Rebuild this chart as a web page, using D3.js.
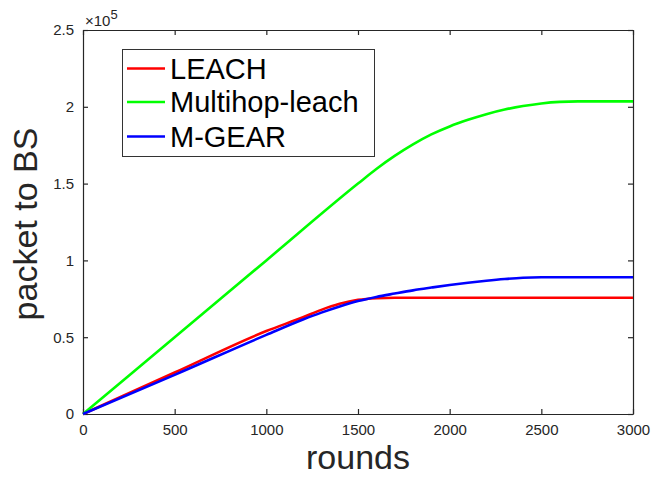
<!DOCTYPE html>
<html><head><meta charset="utf-8">
<script src="https://cdn.jsdelivr.net/npm/d3@7"></script>
<style>body{margin:0;background:#fff}svg{display:block}text{font-family:"Liberation Sans",Arial,sans-serif}</style>
</head><body>
<script>
// data (y values in units of 1e5)
const seriesNames = ["LEACH", "Multihop-leach", "M-GEAR"];
const seriesColors = ["#ff0000", "#00ff00", "#0000ff"];
const leachRounds = [0, 500, 1000, 1200, 1300, 1400, 1500, 1600, 1700, 3000];
const leachValues = [0, 0.27, 0.54, 0.63, 0.678, 0.717, 0.743, 0.754, 0.757, 0.757];
const multihopRounds = [0, 500, 1000, 1500, 1600, 1700, 1800, 1900, 2000, 2100, 2200, 2300, 2400, 2500, 2600, 2700, 3000];
const multihopValues = [0, 0.5, 1.0, 1.5, 1.595, 1.68, 1.755, 1.82, 1.872, 1.915, 1.952, 1.982, 2.005, 2.022, 2.032, 2.035, 2.035];
const mgearRounds = [0, 500, 1000, 1200, 1300, 1400, 1500, 1600, 1700, 1800, 1900, 2000, 2100, 2200, 2300, 2400, 2500, 3000];
const mgearValues = [0, 0.255, 0.515, 0.615, 0.66, 0.70, 0.735, 0.762, 0.784, 0.805, 0.823, 0.84, 0.855, 0.868, 0.879, 0.887, 0.89, 0.89];
const xTicks = [0, 500, 1000, 1500, 2000, 2500, 3000];
const yTicks = [0, 0.5, 1, 1.5, 2, 2.5];
const yTickLabels = ["0", "0.5", "1", "1.5", "2", "2.5"];

const W = 666, H = 477;
const m = {l: 83, r: 33, t: 30, b: 63};
const svg = d3.select("body").append("svg").attr("width", W).attr("height", H);
const x = d3.scaleLinear().domain([0, 3000]).range([m.l, W - m.r]);
const y = d3.scaleLinear().domain([0, 2.5]).range([H - m.b, m.t]);
const axisColor = "#262626";

// axes (ticks inside)
const gx = svg.append("g").attr("transform", `translate(0,${H - m.b})`)
  .call(d3.axisBottom(x).tickValues(xTicks).tickSizeInner(-5).tickSizeOuter(0).tickPadding(10).tickFormat(d3.format("d")));
const gxt = svg.append("g").attr("transform", `translate(0,${m.t})`)
  .call(d3.axisTop(x).tickValues(xTicks).tickSizeInner(-5).tickSizeOuter(0).tickFormat(""));
const gy = svg.append("g").attr("transform", `translate(${m.l},0)`)
  .call(d3.axisLeft(y).tickValues(yTicks).tickSizeInner(-5).tickSizeOuter(0).tickPadding(9).tickFormat((d, i) => yTickLabels[i]));
const gyr = svg.append("g").attr("transform", `translate(${W - m.r},0)`)
  .call(d3.axisRight(y).tickValues(yTicks).tickSizeInner(-5).tickSizeOuter(0).tickFormat(""));
[gx, gxt, gy, gyr].forEach(g => {
  g.selectAll("path,line").attr("stroke", axisColor).attr("stroke-width", 1.2);
  g.selectAll("text").attr("fill", axisColor).style("font-size", "15px").style("font-family", "'Liberation Sans',Arial,sans-serif");
});

// exponent label
const ex = svg.append("text").attr("x", 85).attr("y", 26).attr("fill", axisColor).style("font-size", "15px");
ex.append("tspan").text("×10");
ex.append("tspan").attr("dy", -7).style("font-size", "13px").text("5");

// lines
const line = d3.line().x(d => x(d[0])).y(d => y(d[1])).curve(d3.curveMonotoneX);
const data = [
  d3.zip(leachRounds, leachValues),
  d3.zip(multihopRounds, multihopValues),
  d3.zip(mgearRounds, mgearValues)
];
data.forEach((d, i) => {
  svg.append("path").datum(d).attr("d", line).attr("fill", "none")
    .attr("stroke", seriesColors[i]).attr("stroke-width", 2.6).attr("stroke-linejoin", "round");
});

// axis titles
svg.append("text").attr("x", x(1500)).attr("y", 469).attr("text-anchor", "middle")
  .attr("fill", axisColor).style("font-size", "34px").text("rounds");
svg.append("text").attr("transform", `translate(37,${(m.t + H - m.b) / 2 + 2}) rotate(-90)`).attr("text-anchor", "middle")
  .attr("fill", axisColor).style("font-size", "34px").text("packet to BS");

// legend
const lg = svg.append("g");
lg.append("rect").attr("x", 122.5).attr("y", 49.5).attr("width", 252).attr("height", 107)
  .attr("fill", "#fff").attr("stroke", "#333").attr("stroke-width", 1);
const rowY = [68.5, 102, 136.5];
seriesNames.forEach((n, i) => {
  lg.append("line").attr("x1", 127).attr("x2", 165).attr("y1", rowY[i]).attr("y2", rowY[i])
    .attr("stroke", seriesColors[i]).attr("stroke-width", 2.6);
  lg.append("text").attr("x", 170).attr("y", rowY[i] + 10).attr("fill", "#000")
    .style("font-size", "29px").text(n);
});
</script>
</body></html>
